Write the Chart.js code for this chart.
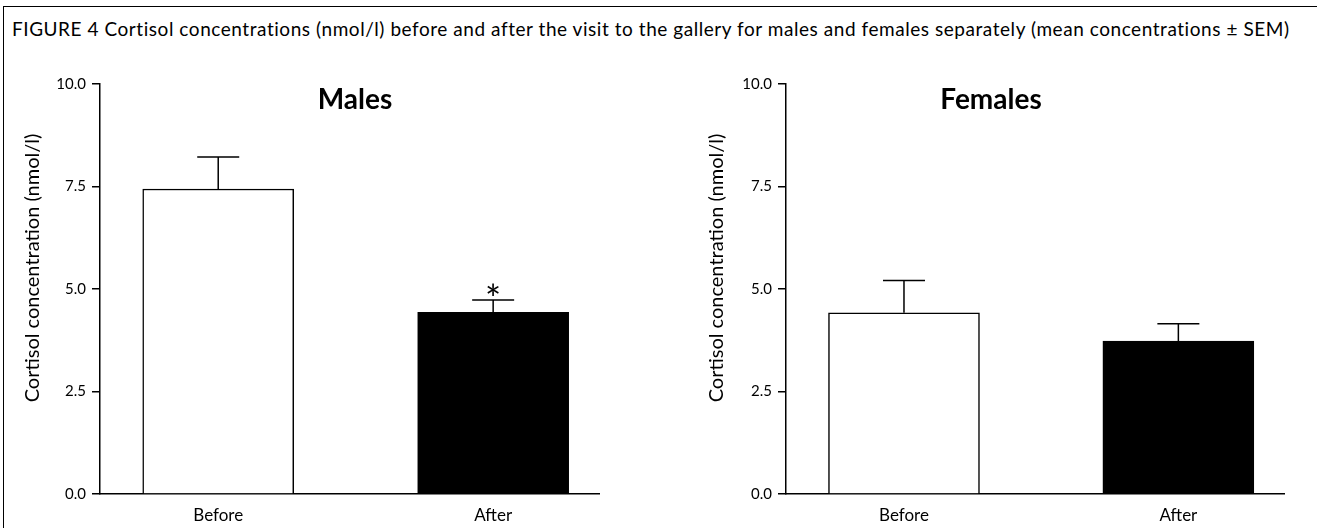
<!DOCTYPE html>
<html>
<head>
<meta charset="utf-8">
<script src="https://cdn.jsdelivr.net/npm/chart.js@4.4.1/dist/chart.umd.min.js"></script>
<style>
  html, body { margin: 0; padding: 0; background: #fff; overflow: hidden; }
  body { width: 1317px; height: 528px; position: relative; font-family: Lato, sans-serif; }
  #frame { position: absolute; left: 3px; top: 6px; width: 1340px; height: 560px; border: 1.5px solid #000; }
  #caption { position: absolute; left: 12px; top: 19px; font-size: 19px; letter-spacing: 0.55px; line-height: 20px; color: #000; white-space: nowrap; }
  .panel { position: absolute; top: 0; height: 528px; }
  #leftPanel { left: 0; width: 658px; }
  #rightPanel { left: 658px; width: 659px; }
</style>
</head>
<body>
<div id="frame"></div>
<div id="caption">FIGURE 4 Cortisol concentrations (nmol/l) before and after the visit to the gallery for males and females separately (mean concentrations ± SEM)</div>
<div class="panel" id="leftPanel"><canvas id="males"></canvas></div>
<div class="panel" id="rightPanel"><canvas id="females"></canvas></div>
<script>
const categories = ['Before', 'After'];
const malesMean = [7.44, 4.43];
const malesSem = [0.78, 0.30];
const malesStar = [false, true];
const femalesMean = [4.42, 3.73];
const femalesSem = [0.79, 0.42];
const femalesStar = [false, false];
const yTicks = [0, 2.5, 5, 7.5, 10];
const yTitle = 'Cortisol concentration (nmol/l)';

Chart.defaults.font.family = 'Lato';
Chart.defaults.color = '#000';

// error bars (upper half only) + significance star
const errorBars = {
  id: 'errorBars',
  afterDatasetsDraw(chart, args, opts) {
    const ctx = chart.ctx;
    const y = chart.scales.y;
    const meta = chart.getDatasetMeta(0);
    ctx.save();
    ctx.strokeStyle = '#000';
    ctx.lineWidth = 1.5;
    meta.data.forEach((bar, i) => {
      const top = y.getPixelForValue(opts.mean[i] + opts.sem[i]);
      ctx.beginPath();
      ctx.moveTo(bar.x, bar.y);
      ctx.lineTo(bar.x, top);
      ctx.moveTo(bar.x - 21, top);
      ctx.lineTo(bar.x + 21, top);
      ctx.stroke();
      if (opts.star[i]) {
        ctx.fillStyle = '#000';
        ctx.font = '38px Lato';
        ctx.textAlign = 'center';
        ctx.textBaseline = 'alphabetic';
        ctx.fillText('*', bar.x, top + 13);
      }
    });
    ctx.restore();
  }
};

// panel heading inside the plot + y axis title (sits a bit above the axis middle)
const panelTitle = {
  id: 'panelTitle',
  afterDraw(chart, args, opts) {
    const ctx = chart.ctx;
    const area = chart.chartArea;
    ctx.save();
    ctx.fillStyle = '#000';
    ctx.textAlign = 'center';
    ctx.textBaseline = 'middle';
    ctx.font = 'bold 28px Lato';
    ctx.fillText(opts.text, area.left + opts.x, area.top + 16);
    ctx.translate(opts.yTitleX, (area.top + area.bottom) / 2 - 21);
    ctx.rotate(-Math.PI / 2);
    ctx.font = '20px Lato';
    ctx.fillText(yTitle, 0, 0);
    ctx.restore();
  }
};

function makeChart(id, title, means, sems, stars, titleX, yTitleX, axisX, padRight) {
  new Chart(document.getElementById(id), {
    type: 'bar',
    data: {
      datasets: [{
        data: means.map((v, i) => ({ x: i, y: v })),
        backgroundColor: ['#fff', '#000'],
        borderColor: '#000',
        borderWidth: 1.5,
        barThickness: 151
      }]
    },
    options: {
      responsive: true,
      maintainAspectRatio: false,
      animation: false,
      layout: { padding: { left: 0, right: padRight, top: 84, bottom: 0 } },
      plugins: {
        legend: { display: false },
        tooltip: { enabled: false },
        errorBars: { mean: means, sem: sems, star: stars },
        panelTitle: { text: title, x: titleX, yTitleX: yTitleX }
      },
      scales: {
        x: {
          type: 'linear',
          min: -0.43,
          max: 1.385,
          offset: false,
          afterBuildTicks: s => { s.ticks = categories.map((c, i) => ({ value: i })); },
          afterFit: s => { s.height = 34; },
          ticks: {
            callback: v => categories[v],
            font: { size: 17 },
            padding: 11
          },
          grid: { display: false, drawTicks: false, offset: false },
          border: { display: true, color: '#000', width: 1.5 }
        },
        y: {
          min: 0,
          max: 10,
          afterBuildTicks: s => { s.ticks = yTicks.map(v => ({ value: v })); },
          afterFit: s => { s.width = axisX; },
          ticks: {
            callback: v => v.toFixed(1),
            font: { size: 15 },
            padding: 6
          },
          grid: { drawOnChartArea: false, drawTicks: true, tickLength: 8, color: '#000', lineWidth: 1.5 },
          border: { display: true, color: '#000', width: 1.5 }
        }
      }
    },
    plugins: [errorBars, panelTitle]
  });
}

makeChart('males', 'Males', malesMean, malesSem, malesStar, 255, 33, 100, 59);
makeChart('females', 'Females', femalesMean, femalesSem, femalesStar, 205, 59, 128, 33);
</script>
</body>
</html>
